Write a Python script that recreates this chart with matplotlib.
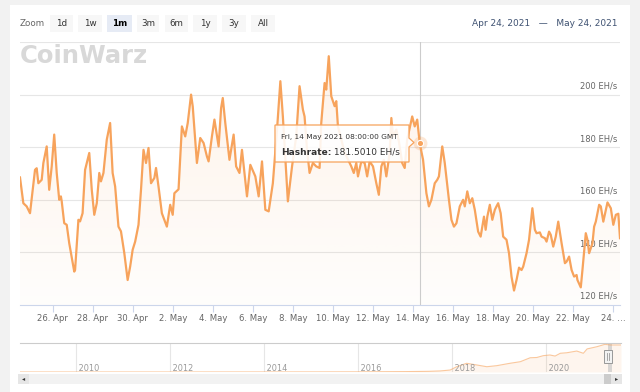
import numpy as np
import matplotlib
matplotlib.use('Agg')
import matplotlib.pyplot as plt
import matplotlib.dates as mdates
from matplotlib.patches import Rectangle, Polygon
from datetime import datetime, timedelta

# hashrate samples: hours after 24 Apr 2021 00:00 GMT, EH/s
hours = [9, 13, 17, 21, 27, 29, 31, 35, 37, 41,
         44, 47, 50, 53, 56, 58, 59, 62, 65, 68,
         74, 75, 79, 81, 84, 87, 92, 95, 98, 101,
         104, 106, 109, 113, 117, 120, 123, 127, 130, 134,
         138, 141, 144, 147, 151, 154, 157, 160, 163, 166,
         170, 172, 175, 179, 185, 189, 192, 194, 199, 203,
         207, 210, 214, 216, 221, 225, 229, 233, 235, 239,
         242, 247, 250, 252, 255, 260, 265, 268, 272, 275,
         281, 285, 291, 295, 299, 303, 307, 312, 317, 321,
         324, 330, 335, 340, 344, 348, 350, 353, 356, 360,
         364, 368, 370, 374, 376, 379, 382, 386, 388, 390,
         398, 406, 409, 412, 414, 418, 422, 425, 428, 432,
         436, 439, 442, 445, 448, 452, 454, 456, 460, 463,
         467, 470, 473, 479, 482, 485, 488, 492, 496, 499,
         502, 506, 509, 511, 515, 518, 523, 526, 529, 532,
         536, 540, 542, 545, 548, 551, 554, 558, 561, 565,
         567, 569, 572, 575, 578, 580, 582, 585, 588, 592,
         595, 598, 601, 604, 607, 610, 612, 616, 619, 623,
         626, 628, 632, 634, 638, 640, 643, 645, 648, 651,
         654, 658, 662, 664, 667, 670, 673, 676, 677, 681,
         683, 687, 689, 691, 695, 697, 699, 703, 705, 708,
         711, 713, 717, 720, 723, 726, 728]
hashrate = [168.5, 158.7, 157.5, 154.9, 171.4, 172.0, 166.3, 167.6, 174.0, 180.3,
            163.8, 172.7, 184.8, 170.2, 160.0, 161.3, 159.4, 151.1, 150.5, 143.5,
            132.7, 133.3, 152.4, 151.8, 154.9, 171.4, 177.8, 163.8, 154.3, 158.7,
            170.2, 167.0, 170.2, 182.9, 189.2, 170.2, 165.1, 149.8, 148.0, 139.7,
            129.5, 134.6, 141.0, 144.1, 150.5, 163.8, 179.0, 174.0, 179.7, 166.3,
            168.3, 172.1, 165.0, 154.9, 149.8, 158.1, 154.3, 162.5, 164.0, 187.9,
            184.1, 189.2, 200.0, 195.5, 174.0, 183.5, 181.6, 176.5, 174.6, 184.1,
            190.5, 180.3, 194.9, 198.7, 189.2, 175.2, 184.8, 172.7, 170.2, 179.0,
            161.3, 173.3, 168.9, 161.3, 174.6, 156.2, 155.6, 166.3, 186.7, 205.1,
            191.7, 159.4, 172.7, 184.1, 203.2, 194.3, 191.7, 179.0, 170.2, 174.0,
            172.7, 172.1, 189.2, 204.4, 201.9, 214.6, 199.4, 195.6, 197.5, 187.9,
            178.0, 172.7, 170.2, 174.0, 168.9, 174.6, 174.0, 168.9, 174.6, 172.7,
            166.3, 161.9, 172.7, 175.2, 168.9, 177.8, 191.1, 184.1, 186.7, 182.2,
            174.0, 172.1, 182.9, 191.7, 187.9, 190.5, 181.501, 175.2, 162.5, 157.5,
            160.0, 166.3, 167.6, 168.9, 180.3, 174.0, 160.0, 152.4, 149.8, 151.1,
            157.5, 160.0, 157.5, 163.2, 158.7, 160.6, 156.2, 147.9, 146.0, 153.6,
            148.6, 153.6, 158.1, 152.4, 156.2, 157.5, 158.7, 154.9, 146.0, 144.8,
            139.7, 130.8, 125.5, 129.5, 134.2, 133.3, 134.6, 139.7, 144.8, 156.8,
            148.6, 147.3, 147.6, 146.0, 145.4, 144.1, 147.9, 146.7, 142.2, 146.0,
            151.7, 143.5, 135.9, 136.5, 138.4, 133.3, 130.8, 131.4, 129.5, 126.7,
            133.3, 147.3, 144.8, 139.7, 143.5, 149.8, 151.7, 158.1, 157.5, 151.7,
            156.2, 159.0, 156.8, 150.5, 154.3, 154.7, 145.4]

# navigator (full history), decimal years and EH/s
nav_years = [2008.82, 2012.0, 2015.0, 2016.0, 2016.5, 2017.0, 2017.5, 2017.75, 2017.96, 2018.10,
             2018.31, 2018.53, 2018.74, 2018.95, 2019.23, 2019.45, 2019.66, 2019.80, 2019.94, 2020.08,
             2020.19, 2020.30, 2020.44, 2020.65, 2020.79, 2020.87, 2021.08, 2021.25, 2021.36, 2021.59]
nav_values = [0, 0, 0.5, 1, 2, 3, 5, 8, 15, 40,
              66, 53, 40, 48, 66, 78, 108, 110, 124, 129,
              121, 142, 146, 159, 142, 175, 192, 210, 205, 205]
nav_ticks = [2010, 2012, 2014, 2016, 2018, 2020]

y_grid = [140, 160, 180, 200, 220]
y_labels = [120, 140, 160, 180, 200]
zoom_buttons = ['1d', '1w', '1m', '3m', '6m', '1y', '3y', 'All']
selected_button = '1m'
tip_hour = 488

start = datetime(2021, 4, 24)
times = [start + timedelta(hours=h) for h in hours]
tick_days = [start + timedelta(days=d) for d in range(2, 31, 2)]
tick_labels = [f"{d.day}. {d.strftime('%b')}" for d in tick_days]
tick_labels[-1] = tick_labels[-1][:3] + ' …'

orange = '#f7a35c'
label_col = '#666666'

fig = plt.figure(figsize=(6.4, 3.92), dpi=100, facecolor='#f2f2f2')

# background / decoration layer in pixel coordinates
bg = fig.add_axes([0, 0, 1, 1], zorder=0)
bg.set_xlim(0, 640)
bg.set_ylim(392, 0)
bg.axis('off')
bg.add_patch(Rectangle((10, 5), 620, 390, facecolor='white', edgecolor='none'))
bg.text(20, 23.5, 'Zoom', fontsize=6.3, color=label_col, va='center', ha='left')
btn_x = [50, 78, 107, 137, 165, 193, 222, 251]
btn_w = [23, 24, 25, 22, 23, 24, 24, 24]
for lab, x0, w in zip(zoom_buttons, btn_x, btn_w):
    sel = lab == selected_button
    bg.add_patch(Rectangle((x0, 15), w, 17, facecolor='#e6ebf5' if sel else '#f7f7f7', edgecolor='none'))
    bg.text(x0 + w / 2, 23.5, lab, fontsize=6.3, color='#000000' if sel else '#333333',
            fontweight='bold' if sel else 'normal', ha='center', va='center')
bg.text(617, 23, 'Apr 24, 2021   —   May 24, 2021', fontsize=6.5, color='#3f5272', ha='right', va='center')
bg.text(20, 56, 'CoinWarz', fontsize=17.5, fontweight='heavy', color='#d8d8d8', ha='left', va='center')

# main chart
ax = fig.add_axes([20 / 640, 1 - 305 / 392, 600 / 640, 263 / 392], zorder=2)
ax.set_facecolor('none')
for s in ['top', 'left', 'right']:
    ax.spines[s].set_visible(False)
ax.spines['bottom'].set_color('#ccd6eb')
ax.spines['bottom'].set_linewidth(0.8)
for g in y_grid:
    ax.axhline(g, color='#e6e6e6', lw=0.8, zorder=0)
for v in y_labels:
    ax.annotate(f'{v} EH/s', xy=(1, v), xycoords=('axes fraction', 'data'),
                xytext=(-2, 3), textcoords='offset points', ha='right', va='bottom',
                fontsize=6.0, color=label_col)

tnum = mdates.date2num(times)
area = ax.fill_between(times, hashrate, 120, color='none', lw=0)
grad = np.zeros((100, 1, 4))
grad[:, 0, :3] = matplotlib.colors.to_rgb(orange)
grad[:, 0, 3] = np.linspace(0.02, 0.14, 100)
img = ax.imshow(grad, extent=[tnum[0], tnum[-1], 120, 220], origin='lower', aspect='auto', zorder=1)
img.set_clip_path(area.get_paths()[0], transform=ax.transData)
ax.plot(times, hashrate, color=orange, lw=1.6, zorder=3, solid_joinstyle='round')

ax.set_xlim(tnum[0], tnum[-1])
ax.set_ylim(120, 220)
ax.set_yticks([])
ax.set_xticks(tick_days)
ax.set_xticklabels(tick_labels)
ax.tick_params(axis='x', length=5, width=0.8, color='#ccd6eb', pad=1.5, labelsize=6.1, labelcolor=label_col)

# crosshair, hover marker
tip_time = times[hours.index(tip_hour)]
tip_val = hashrate[hours.index(tip_hour)]
ax.axvline(tip_time, color='#cccccc', lw=0.8, zorder=2)
ax.plot([tip_time], [tip_val], 'o', ms=10, color=orange, alpha=0.25, mec='none', zorder=4)
ax.plot([tip_time], [tip_val], 'o', ms=4.5, color=orange, mec='white', mew=0.8, zorder=5)

# navigator
nav = fig.add_axes([20 / 640, 1 - 372 / 392, 601 / 640, 29 / 392], zorder=2)
nav.set_facecolor('none')
nav.fill_between(nav_years, nav_values, 0, color=orange, alpha=0.1, lw=0)
nav.plot(nav_years, nav_values, color=orange, alpha=0.6, lw=0.8)
nav.set_xlim(nav_years[0], nav_years[-1])
nav.set_ylim(0, 220)
for s in ['left', 'right', 'bottom']:
    nav.spines[s].set_visible(False)
nav.spines['top'].set_color('#cccccc')
nav.spines['top'].set_linewidth(0.8)
nav.set_xticks([])
nav.set_yticks([])
for yr in nav_ticks:
    nav.axvline(yr, color='#e6e6e6', lw=0.8, zorder=0)
    nav.text(yr, 30, f' {yr}', fontsize=5.9, color='#999999', ha='left', va='center')
nav.axvspan(2021.31, 2021.39, color='#c8c8c8', alpha=0.7, lw=0)

# foreground layer: tooltip, scrollbar, handle
fg = fig.add_axes([0, 0, 1, 1], zorder=5)
fg.set_xlim(0, 640)
fg.set_ylim(392, 0)
fg.axis('off')
fg.add_patch(Rectangle((18, 374), 604, 10, facecolor='#f2f2f2', edgecolor='none'))
fg.add_patch(Rectangle((18, 374), 11, 10, facecolor='#e6e6e6', edgecolor='none'))
fg.add_patch(Rectangle((611, 374), 11, 10, facecolor='#e6e6e6', edgecolor='none'))
fg.add_patch(Rectangle((604, 374), 7, 10, facecolor='#cccccc', edgecolor='none'))
fg.text(23.5, 379, '◂', fontsize=4.5, color='#333333', ha='center', va='center')
fg.text(616.5, 379, '▸', fontsize=4.5, color='#333333', ha='center', va='center')
fg.add_patch(Rectangle((603.5, 350), 8, 13, facecolor='#f2f2f2', edgecolor='#999999', lw=0.7))
fg.plot([606.5, 606.5], [353, 360], color='#999999', lw=0.6)
fg.plot([608.5, 608.5], [353, 360], color='#999999', lw=0.6)

tip_box = [(275, 125), (409, 125), (409, 138), (414, 142.5), (409, 147), (409, 162), (275, 162)]
fg.add_patch(Polygon(tip_box, closed=True, facecolor='white', alpha=0.88, edgecolor='none'))
fg.add_patch(Polygon(tip_box, closed=True, facecolor='none', edgecolor=orange, lw=0.9))
fg.text(281, 137, tip_time.strftime('%a, %d %b %Y %H:%M:%S GMT'), fontsize=5.3, color='#333333',
        ha='left', va='center')
hl = fg.text(281, 152, 'Hashrate:', fontsize=6.5, fontweight='bold', color='#333333', ha='left', va='center')
fg.annotate(f' {tip_val:.4f} EH/s', xy=(1, 0.5), xycoords=hl, fontsize=6.5, color='#333333',
            ha='left', va='center')

fig.savefig('out.png', dpi=100, facecolor=fig.get_facecolor())
